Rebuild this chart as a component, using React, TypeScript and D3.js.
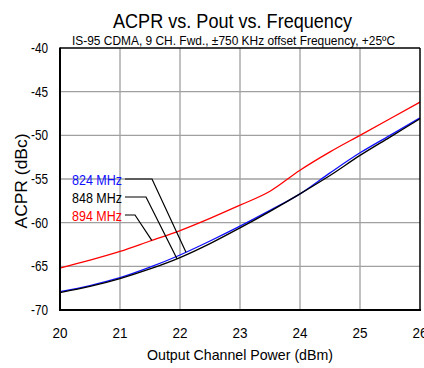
import React from "react";
import * as d3 from "d3";

const xPow = [20, 20.5, 21, 21.5, 22, 22.5, 23, 23.5, 24, 24.5, 25, 25.5, 26];
const acpr824 = [-67.9, -67.2, -66.3, -65.1, -63.7, -62.1, -60.4, -58.6, -56.7, -54.3, -52.0, -50.0, -48.0];
const acpr848 = [-68.0, -67.3, -66.4, -65.3, -64.0, -62.4, -60.6, -58.7, -56.7, -54.6, -52.3, -50.2, -48.1];
const acpr894 = [-65.2, -64.3, -63.3, -62.1, -60.9, -59.5, -58.0, -56.4, -54.0, -51.9, -50.0, -48.1, -46.2];
const xTicks = [20, 21, 22, 23, 24, 25, 26];
const yTicks = [-40, -45, -50, -55, -60, -65, -70];

const series = [
  { name: "824 MHz", values: acpr824, color: "#1010ff", labelX: 22.1 },
  { name: "848 MHz", values: acpr848, color: "#000000", labelX: 21.95 },
  { name: "894 MHz", values: acpr894, color: "#ff0000", labelX: 21.53 },
];

const FONT = "'Liberation Sans', Arial, sans-serif";

export default function App() {
  const W = 424, H = 368;
  const left = 60, right = 420, top = 48, bottom = 310;
  const x = d3.scaleLinear().domain([20, 26]).range([left, right]);
  const y = d3.scaleLinear().domain([-70, -40]).range([bottom, top]);
  const line = d3
    .line<number>()
    .x((_, i) => x(xPow[i]))
    .y((d) => y(d))
    .curve(d3.curveMonotoneX);
  const interp = (vals: number[], xv: number) => d3.scaleLinear().domain(xPow).range(vals)(xv);

  const labelYs = [179, 197, 215];
  const elbowXs = [152, 146, 135];

  return (
    <svg width={W} height={H} style={{ position: "absolute", left: 0, top: 0 }} fontFamily={FONT}>
      <rect width={W} height={H} fill="#fff" />
      <text x={232.5} y={28} fontSize={21} textAnchor="middle" textLength={239} lengthAdjust="spacingAndGlyphs">
        ACPR vs. Pout vs. Frequency
      </text>
      <text x={233.5} y={45} fontSize={12} textAnchor="middle" textLength={323} lengthAdjust="spacingAndGlyphs">
        IS-95 CDMA, 9 CH. Fwd.,  ±750 KHz offset Frequency, +25ºC
      </text>
      <g stroke="#a0a0a0" strokeWidth={1.3}>
        {xTicks.slice(1, -1).map((t) => (
          <line key={"gx" + t} x1={x(t)} x2={x(t)} y1={top} y2={bottom} />
        ))}
        {yTicks.slice(1, -1).map((t) => (
          <line key={"gy" + t} x1={left} x2={right} y1={y(t)} y2={y(t)} />
        ))}
      </g>
      {series.map((s) => (
        <path key={s.name} d={line(s.values) || ""} fill="none" stroke={s.color} strokeWidth={1.3} />
      ))}
      <line x1={left} x2={right} y1={top} y2={top} stroke="#000" strokeWidth={1.5} />
      <line x1={right} x2={right} y1={top} y2={bottom} stroke="#000" strokeWidth={1.5} />
      <line x1={left} x2={left} y1={top - 0.5} y2={bottom + 1} stroke="#000" strokeWidth={2} />
      <line x1={left - 1} x2={right + 1} y1={bottom} y2={bottom} stroke="#000" strokeWidth={2} />
      {yTicks.map((t) => (
        <text key={"yl" + t} x={48} y={y(t) + 5} fontSize={14} textAnchor="end" textLength={17} lengthAdjust="spacingAndGlyphs">{t}</text>
      ))}
      {xTicks.map((t) => (
        <text key={"xl" + t} x={x(t)} y={338} fontSize={14} textAnchor="middle" textLength={15} lengthAdjust="spacingAndGlyphs">{t}</text>
      ))}
      <text x={240} y={360} fontSize={14.5} textAnchor="middle" textLength={186} lengthAdjust="spacingAndGlyphs">
        Output Channel Power (dBm)
      </text>
      <text transform="translate(27,181) rotate(-90)" fontSize={16} textAnchor="middle" textLength={95} lengthAdjust="spacingAndGlyphs">
        ACPR (dBc)
      </text>
      {series.map((s, i) => (
        <g key={"lab" + s.name}>
          <text x={122} y={labelYs[i] + 5.5} fontSize={15} textAnchor="end" fill={s.color} textLength={50} lengthAdjust="spacingAndGlyphs">
            {s.name}
          </text>
          <polyline
            points={`125,${labelYs[i]} ${elbowXs[i]},${labelYs[i]} ${x(s.labelX)},${y(interp(s.values, s.labelX))}`}
            fill="none"
            stroke="#000"
            strokeWidth={1.2}
          />
        </g>
      ))}
    </svg>
  );
}
